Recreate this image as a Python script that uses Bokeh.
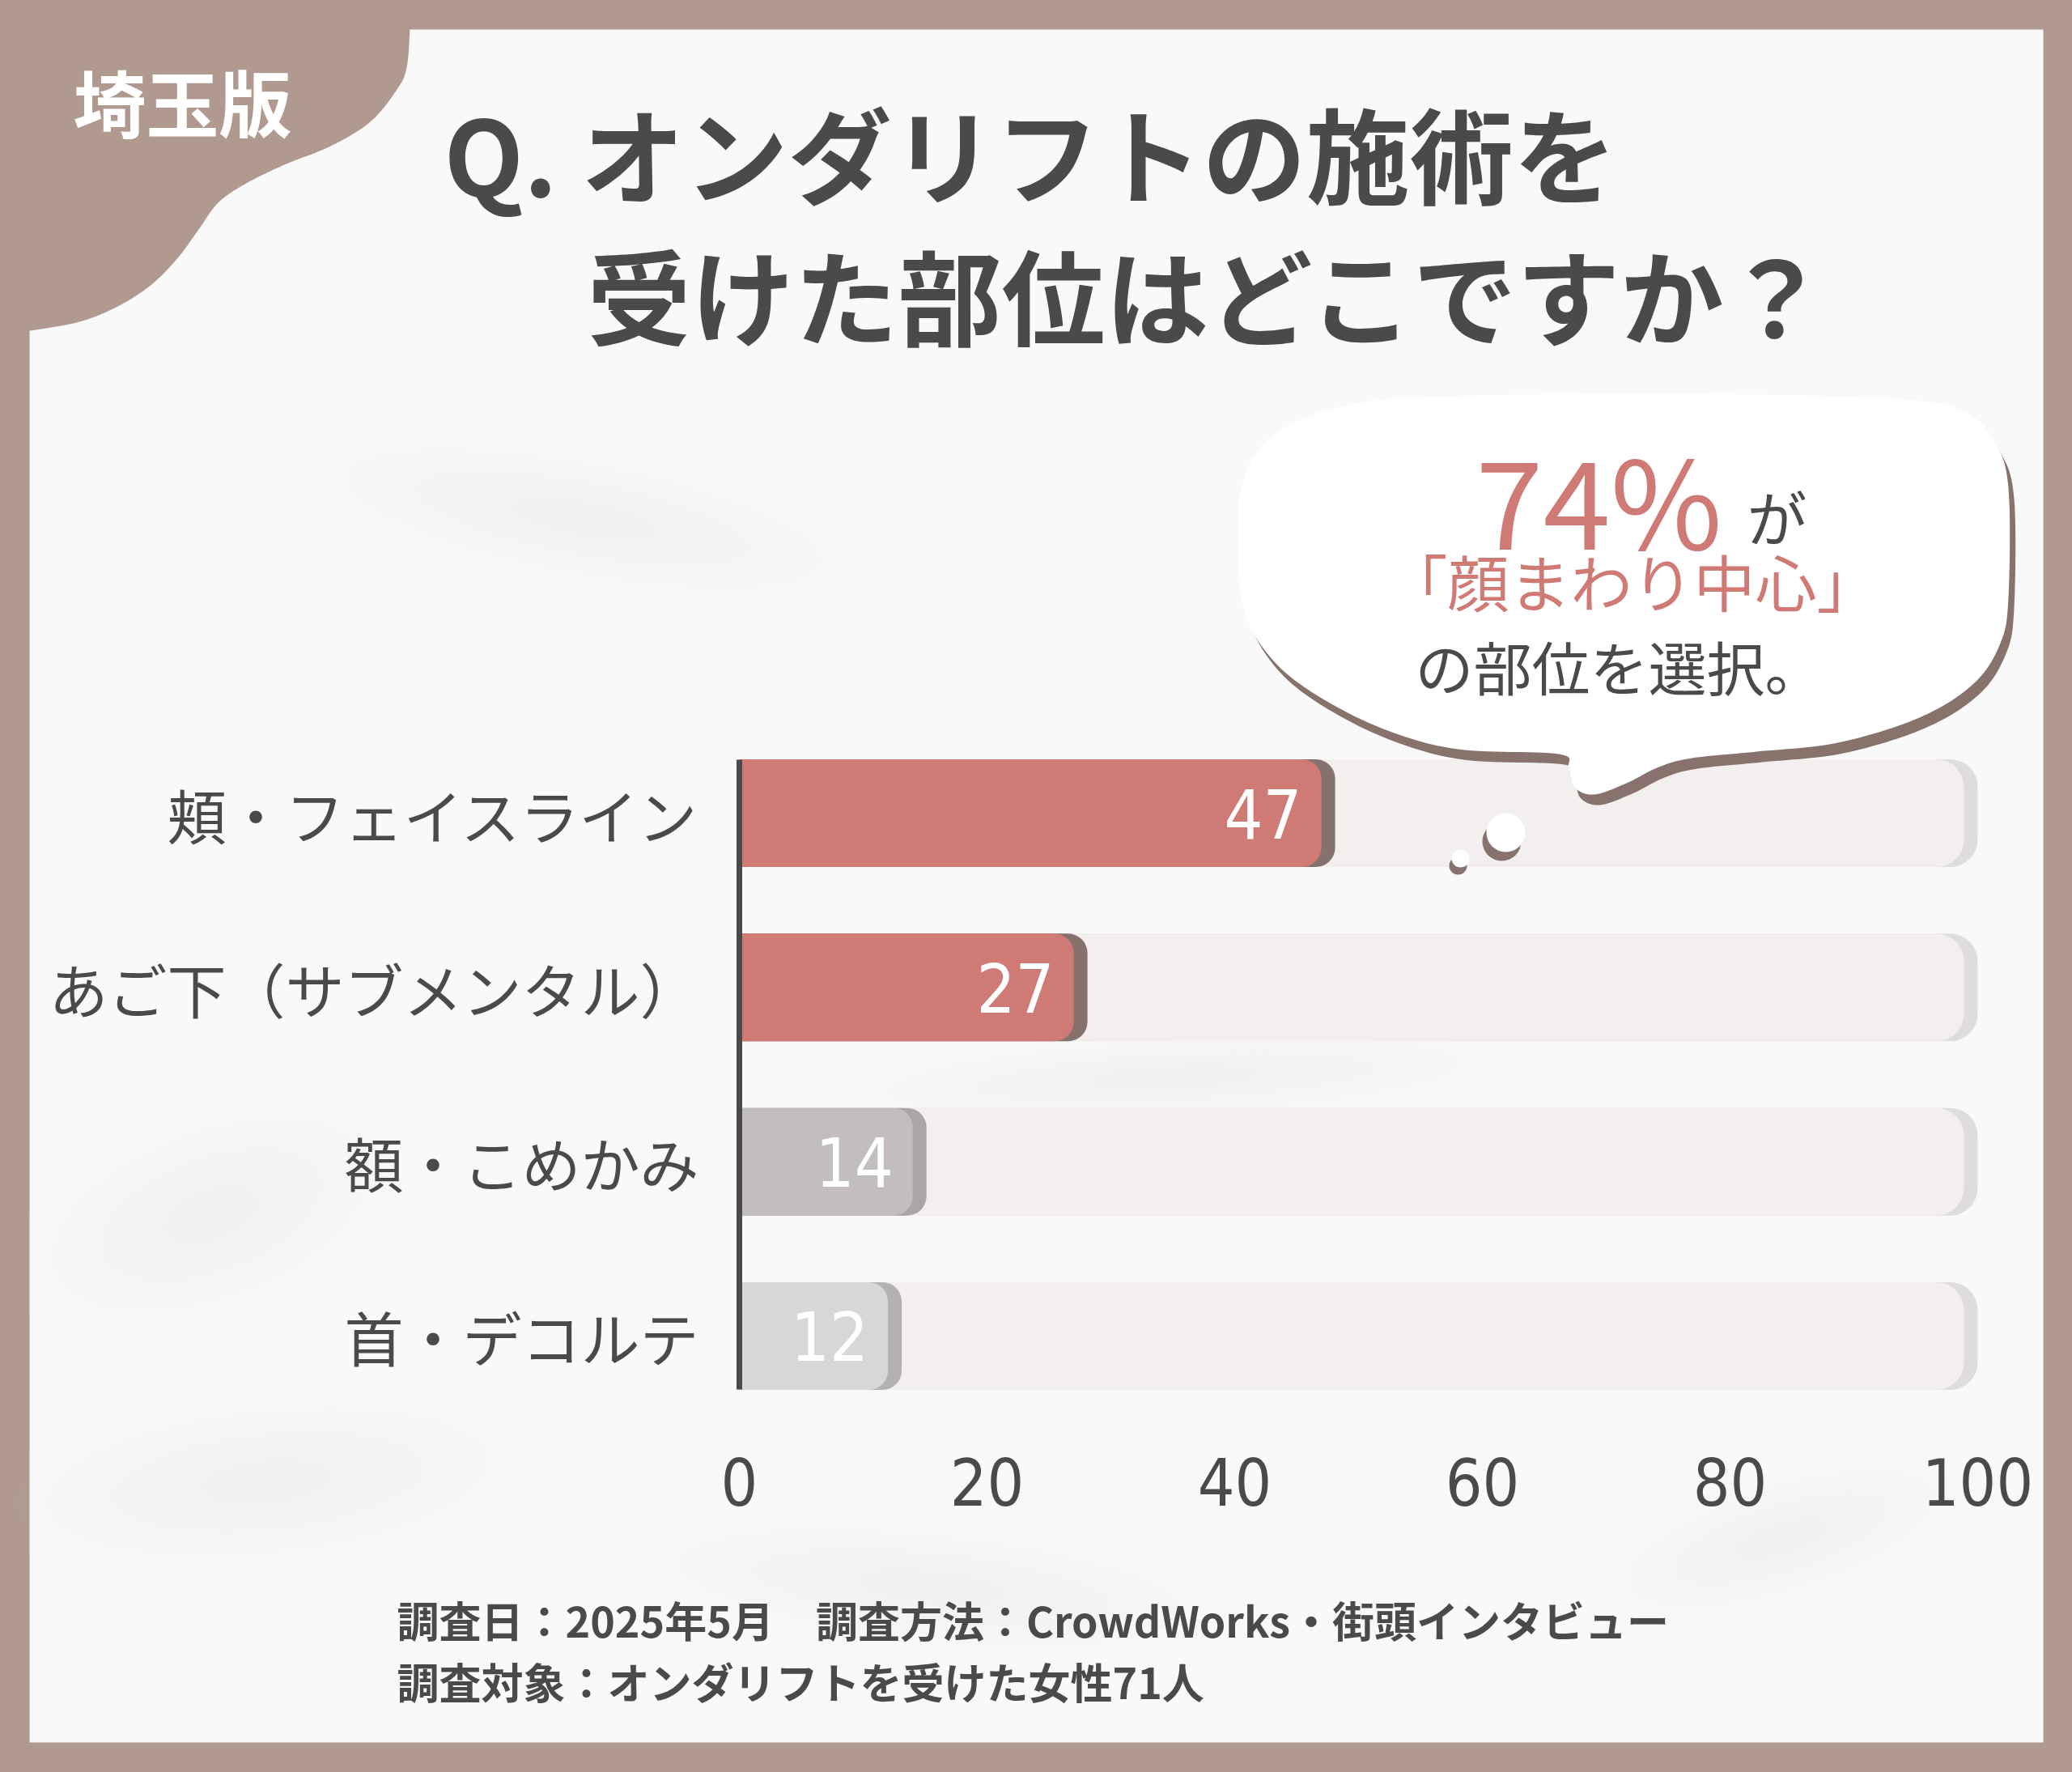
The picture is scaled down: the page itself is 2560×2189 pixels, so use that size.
import numpy as np
from bokeh.plotting import figure
from bokeh.models import Range1d, LinearAxis, FixedTicker, ColumnDataSource
from bokeh.core.properties import value
from bokeh.embed import file_html
from bokeh.resources import INLINE

# ---------------- data ----------------
categories = ["頬・フェイスライン", "あご下（サブメンタル）", "額・こめかみ", "首・デコルテ"]
percents = [47, 27, 14, 12]
x_ticks = [0, 20, 40, 60, 80, 100]
x_tick_labels = ["0", "20", "40", "60", "80", "100"]

badge_text = "埼玉版"
title_lines = ["Q. オンダリフトの施術を", "受けた部位はどこですか？"]
callout_pct = f"{percents[0] + percents[1]}%"
callout_ga = "が"
callout_mid = "「顔まわり中心」"
callout_end = "の部位を選択。"
footnotes = ["調査日：2025年5月　調査方法：CrowdWorks・街頭インタビュー",
             "調査対象：オンダリフトを受けた女性71人"]

# ---------------- styles ----------------
TAUPE = "#b0998f"
PANEL = "#f9f9f9"
INK = "#4a4a4a"
SALMON = "#cf7a75"
BUBBLE_SH = "#87736c"
TRACK = "#f2efee"
TRACK_SH = "#dedddc"
bar_colors = ["#cf7a75", "#cf7a75", "#c2bebd", "#d9d7d6"]
bar_shadows = ["#85726c", "#85726c", "#a9a6a5", "#b4b2b1"]
JP_NAME = "Noto Sans CJK JP"
NARROW_NAME = "'Liberation Sans Narrow', 'DejaVu Sans Condensed', Roboto, sans-serif"
JP = value(JP_NAME)
NARROW = value(NARROW_NAME)

# ---------------- geometry (page pixels) ----------------
W, H = 2544, 2173
PX0, PY0 = 0, 0
X0_REF, X100_REF = 913.0, 2443.0
SX = (X100_REF - X0_REF) / 100.0
ROW0_REF, ROW_STEP = 1004.0, 215.33
BAR_H = 133.0 / ROW_STEP
SH = 17.0 / SX

x_range = Range1d((PX0 - X0_REF) / SX, (PX0 + W - X0_REF) / SX)
y_range = Range1d((PY0 + H - ROW0_REF) / ROW_STEP, (PY0 - ROW0_REF) / ROW_STEP)

p = figure(width=W, height=H, x_range=x_range, y_range=y_range,
           output_backend="svg", toolbar_location=None,
           x_axis_location=None, y_axis_location=None, min_border=0,
           outline_line_color=None, background_fill_color=TAUPE,
           border_fill_color=TAUPE)
p.grid.visible = False
p.extra_x_ranges = {"px": Range1d(PX0, PX0 + W)}
p.extra_y_ranges = {"px": Range1d(PY0 + H, PY0)}
PXR = dict(x_range_name="px", y_range_name="px")


def catmull(pts, n=18, closed=True):
    P = np.array(pts, float)
    if not closed:
        P = np.vstack([P[0], P, P[-1]])
        idx = range(1, len(P) - 2)
    else:
        idx = range(len(P))
    m = len(P)
    out = []
    t = np.linspace(0, 1, n, endpoint=False)[:, None]
    for i in idx:
        p0, p1, p2, p3 = P[(i - 1) % m], P[i], P[(i + 1) % m], P[(i + 2) % m]
        out.append(0.5 * ((2 * p1) + (-p0 + p2) * t + (2 * p0 - 5 * p1 + 4 * p2 - p3) * t ** 2
                          + (-p0 + 3 * p1 - 3 * p2 + p3) * t ** 3))
    if not closed:
        out.append(P[-2][None, :])
    A = np.vstack(out)
    return list(A[:, 0]), list(A[:, 1])


# ---------------- panel & background ----------------
p.quad(left=36, right=2524, top=36, bottom=2152, fill_color=PANEL, line_color=None, **PXR)

for cx, cy, w, h, a in [(720, 640, 760, 170, -0.18), (260, 1500, 520, 260, 0.35),
                        (1450, 1330, 900, 110, 0.05), (330, 1830, 700, 220, 0.1),
                        (1150, 1960, 800, 160, -0.1), (2200, 1900, 500, 160, 0.3)]:
    for k in range(8):
        s = 1 - k * 0.11
        p.ellipse(x=cx, y=cy, width=w * s, height=h * s, angle=a,
                  fill_color="#d8d8d8", fill_alpha=0.025, line_color=None, **PXR)

# top-left blob
bx, by = catmull([(506, 36), (502, 83), (490, 110), (457, 150), (408, 180), (351, 203),
                  (302, 227), (269, 250), (245, 283), (220, 317), (188, 350), (147, 377),
                  (98, 397), (37, 408)], closed=False)
p.patch(x=[20, 506] + bx + [20], y=[20, 20] + by + [408], fill_color=TAUPE, line_color=None, **PXR)

p.text(x=[225], y=[123], text=[badge_text], text_align="center", text_baseline="middle",
       text_color="white", text_font=JP, text_font_style="bold", text_font_size="90px", **PXR)

# title
p.text(x=[548, 725], y=[187, 362], text=title_lines, text_align="left", text_baseline="middle",
       text_color=INK, text_font=JP, text_font_style="bold", text_font_size="128px", **PXR)

# ---------------- bars ----------------
rows = list(range(len(categories)))
src = ColumnDataSource(dict(row=rows, pct=percents, lab=[str(v) for v in percents],
                            col=bar_colors, shc=bar_shadows,
                            shr=[v + SH for v in percents]))
xmax = x_ticks[-1]
p.hbar(y=rows, left=0, right=xmax, height=BAR_H, fill_color=TRACK_SH, line_color=None,
       border_radius=(0, 34, 34, 0))
p.hbar(y=rows, left=0, right=xmax - SH, height=BAR_H, fill_color=TRACK, line_color=None,
       border_radius=(0, 34, 34, 0))
p.hbar(y="row", left=0, right="shr", height=BAR_H, fill_color="shc", line_color=None,
       border_radius=(0, 24, 24, 0), source=src)
p.hbar(y="row", left=0, right="pct", height=BAR_H, fill_color="col", line_color=None,
       border_radius=(0, 24, 24, 0), source=src)
p.text(x="pct", y="row", text="lab", source=src, x_offset=-24, text_align="right",
       text_baseline="middle", text_color="white", text_font=NARROW, text_font_size="84px")

# axes
yax = LinearAxis(fixed_location=0, ticker=FixedTicker(ticks=rows),
                 major_label_overrides={i: c for i, c in zip(rows, categories)},
                 bounds=(-BAR_H / 2, rows[-1] + BAR_H / 2),
                 axis_line_color=INK, axis_line_width=7,
                 major_tick_line_color=None, minor_tick_line_color=None,
                 major_label_standoff=44, major_label_text_font=JP_NAME,
                 major_label_text_font_size="73px", major_label_text_color=INK)
p.add_layout(yax, "left")

XAX_Y = (1772 - ROW0_REF) / ROW_STEP
xax = LinearAxis(fixed_location=XAX_Y, ticker=FixedTicker(ticks=x_ticks),
                 major_label_overrides={t: l for t, l in zip(x_ticks, x_tick_labels)},
                 axis_line_color=None, major_tick_line_color=None, minor_tick_line_color=None,
                 major_label_standoff=22, major_label_text_font=NARROW_NAME,
                 major_label_text_font_size="80px", major_label_text_color=INK)
p.add_layout(xax, "below")

# ---------------- speech bubble ----------------
bubble_pts = [(1969, 486), (2103, 486), (2337, 492), (2424, 507), (2464, 546), (2481, 603),
              (2481, 737), (2471, 794), (2438, 844), (2371, 886), (2270, 917), (2170, 928),
              (2090, 936), (2049, 947), (2009, 967), (1969, 981), (1945, 972), (1938, 947),
              (1925, 931), (1801, 925), (1714, 902), (1634, 863), (1574, 817), (1537, 756),
              (1530, 680), (1533, 603), (1560, 549), (1614, 515), (1701, 494), (1835, 488)]
ux, uy = catmull(bubble_pts, n=14)
p.patch(x=[v + 7 for v in ux], y=[v + 13 for v in uy], fill_color=BUBBLE_SH, line_color=None, **PXR)
p.patch(x=ux, y=uy, fill_color="white", line_color=None, **PXR)

p.circle(x=[1855, 1801], y=[1039, 1069], radius=[24, 11], fill_color=BUBBLE_SH, line_color=None, **PXR)
p.circle(x=[1860, 1804], y=[1028, 1060], radius=[24, 11], fill_color="white", line_color=None, **PXR)

p.text(x=[1975], y=[613], text=[callout_pct], text_align="center", text_baseline="middle",
       text_color=SALMON, text_font=JP, text_font_size="150px", **PXR)
p.text(x=[2195], y=[636], text=[callout_ga], text_align="center", text_baseline="middle",
       text_color=INK, text_font=JP, text_font_size="74px", **PXR)
p.text(x=[2016], y=[716], text=[callout_mid], text_align="center", text_baseline="middle",
       text_color=SALMON, text_font=JP, text_font_size="76px", **PXR)
p.text(x=[2000], y=[821], text=[callout_end], text_align="center", text_baseline="middle",
       text_color=INK, text_font=JP, text_font_size="72px", **PXR)

# ---------------- footnotes ----------------
p.text(x=[490, 490], y=[2000, 2076], text=footnotes, text_align="left", text_baseline="middle",
       text_color=INK, text_font=JP, text_font_style="bold", text_font_size="52px", **PXR)

html = file_html(p, INLINE)
html = html.replace("</head>", "<style>html,body{background:%s;}</style></head>" % TAUPE, 1)
open("out.html", "w").write(html)
